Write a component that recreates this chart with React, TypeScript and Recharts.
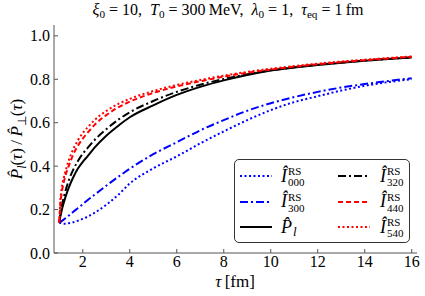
import React from "react";
import { LineChart, Line, XAxis, YAxis, Legend } from "recharts";

const SERIF = '"Liberation Serif", Times, serif';

// tau in fm
const tau = [1, 1.05, 1.1, 1.2, 1.3, 1.4, 1.6, 1.8, 2, 2.2, 2.5, 3, 3.5, 4, 5, 6, 7, 8, 9, 10, 11, 12, 13, 14, 15, 16];

const i000 = [0.14, 0.138, 0.136, 0.135, 0.135, 0.137, 0.142, 0.149, 0.157, 0.167, 0.185, 0.222, 0.267, 0.32, 0.39, 0.445, 0.505, 0.56, 0.612, 0.658, 0.695, 0.722, 0.748, 0.77, 0.787, 0.8];
const i300 = [0.14, 0.143, 0.147, 0.155, 0.163, 0.172, 0.19, 0.207, 0.225, 0.243, 0.268, 0.31, 0.35, 0.388, 0.455, 0.51, 0.565, 0.612, 0.655, 0.69, 0.718, 0.742, 0.762, 0.778, 0.792, 0.805];
const pl = [0.14, 0.17, 0.195, 0.235, 0.27, 0.3, 0.35, 0.39, 0.42, 0.445, 0.485, 0.54, 0.585, 0.625, 0.68, 0.728, 0.765, 0.795, 0.82, 0.84, 0.854, 0.866, 0.876, 0.885, 0.893, 0.9];
const i320 = [0.14, 0.185, 0.215, 0.26, 0.3, 0.333, 0.385, 0.425, 0.457, 0.483, 0.52, 0.57, 0.613, 0.648, 0.7, 0.742, 0.775, 0.801, 0.823, 0.841, 0.855, 0.867, 0.877, 0.886, 0.894, 0.901];
const i440 = [0.14, 0.23, 0.275, 0.33, 0.37, 0.4, 0.455, 0.495, 0.527, 0.553, 0.59, 0.635, 0.67, 0.697, 0.737, 0.767, 0.791, 0.812, 0.83, 0.845, 0.858, 0.869, 0.879, 0.888, 0.896, 0.904];
const i540 = [0.14, 0.25, 0.295, 0.35, 0.39, 0.425, 0.48, 0.52, 0.552, 0.578, 0.612, 0.654, 0.686, 0.71, 0.746, 0.774, 0.797, 0.817, 0.834, 0.849, 0.861, 0.872, 0.882, 0.89, 0.898, 0.905];

const xTicks = [2, 4, 6, 8, 10, 12, 14, 16];
const yTicks = [0, 0.2, 0.4, 0.6, 0.8, 1.0];

const DOTTED = "2 2.5";
const DASHED = "5 3";
const DASHDOT = "8 3 2 3";

const series = [
  { key: "i000", values: i000, color: "#0000ff", dash: DOTTED, base: "Î", sup: "RS", sub: "000" },
  { key: "i300", values: i300, color: "#0000ff", dash: DASHDOT, base: "Î", sup: "RS", sub: "300" },
  { key: "pl", values: pl, color: "#000000", dash: undefined, base: "P\u0302", sup: "", sub: "l" },
  { key: "i320", values: i320, color: "#000000", dash: DASHDOT, base: "Î", sup: "RS", sub: "320" },
  { key: "i440", values: i440, color: "#ff0000", dash: DASHED, base: "Î", sup: "RS", sub: "440" },
  { key: "i540", values: i540, color: "#ff0000", dash: DOTTED, base: "Î", sup: "RS", sub: "540" },
];

const data = tau.map((t, i) => {
  const row: Record<string, number> = { tau: t };
  series.forEach((s) => (row[s.key] = s.values[i]));
  return row;
});

const FRAME = "#555";

const XTick = (props: any) => (
  <text x={props.x} y={props.y} dy="0.72em" textAnchor="middle" fill="#000" fontSize={16} fontFamily={SERIF} style={{ fontFamily: SERIF }}>
    {props.payload.value}
  </text>
);

const YTick = (props: any) => (
  <text x={props.x} y={props.y} dy="0.35em" textAnchor="end" fill="#000" fontSize={16} fontFamily={SERIF} style={{ fontFamily: SERIF }}>
    {Number(props.payload.value).toFixed(1)}
  </text>
);

function renderLegend() {
  return (
    <div
      style={{
        position: "relative",
        width: 176,
        height: 84,
        border: "1px solid #333",
        borderRadius: 5,
        background: "#fff",
        boxSizing: "border-box",
        fontFamily: SERIF,
        color: "#000",
      }}
    >
      {series.map((s, i) => {
        const col = i < 3 ? 0 : 1;
        const row = i % 3;
        const cy = 16 + row * 25.5;
        const lineLeft = col === 0 ? 5 : 103;
        const textLeft = col === 0 ? 46 : 145;
        return (
          <React.Fragment key={s.key}>
            <svg style={{ position: "absolute", left: lineLeft, top: cy - 3 }} width={32} height={6}>
              <line x1={0} y1={3} x2={32} y2={3} stroke={s.color} strokeWidth={2} strokeDasharray={s.dash} />
            </svg>
            <div style={{ position: "absolute", left: textLeft, top: cy - 12, height: 24, display: "flex", alignItems: "center", whiteSpace: "nowrap" }}>
              <span style={{ fontStyle: "italic", fontSize: 18 }}>{s.base}</span>
              {s.sup ? (
                <span style={{ display: "inline-flex", flexDirection: "column", fontSize: 11, lineHeight: "11px", marginLeft: 1, marginTop: 2 }}>
                  <span style={{ height: 11 }}>{s.sup}</span>
                  <span style={{ height: 11 }}>{s.sub}</span>
                </span>
              ) : (
                <span style={{ fontSize: 13, fontStyle: "italic", marginLeft: 1, position: "relative", top: 5 }}>{s.sub}</span>
              )}
            </div>
          </React.Fragment>
        );
      })}
    </div>
  );
}

const sub = (t: string, italic = false) => (
  <span style={{ fontSize: "0.7em", position: "relative", top: "0.3em", fontStyle: italic ? "italic" : "normal" }}>{t}</span>
);

export default function App() {
  return (
    <div style={{ position: "relative", width: 425, height: 296, fontFamily: SERIF, background: "#fff", color: "#000" }}>
      <style>{`body{margin:0}`}</style>
      <div style={{ position: "absolute", left: 228, top: 0, transform: "translateX(-50%)", whiteSpace: "nowrap", fontSize: 16, lineHeight: "20px" }}>
        <i>ξ</i>{sub("0")} = 10,&nbsp; <i>T</i>{sub("0")} = 300&thinsp;MeV,&nbsp; <i>λ</i>{sub("0")} = 1,&nbsp; <i>τ</i>{sub("eq")} = 1&thinsp;fm
      </div>
      <div style={{ position: "absolute", left: 235, top: 272, transform: "translateX(-50%)", whiteSpace: "nowrap", fontSize: 17, lineHeight: "20px" }}>
        <i>τ</i>&thinsp;[fm]
      </div>
      <div
        style={{
          position: "absolute",
          left: 17,
          top: 139,
          transform: "translate(-50%, -50%) rotate(-90deg)",
          whiteSpace: "nowrap",
          fontSize: 17,
          lineHeight: "20px",
        }}
      >
        <i>P&#770;</i>{sub("l", true)}(<i>τ</i>)&thinsp;/&thinsp;<i>P&#770;</i>{sub("⊥")}(<i>τ</i>)
      </div>
      <div style={{ position: "absolute", left: 0, top: 0 }}>
        <LineChart width={425} height={296} data={data} margin={{ top: 25, right: 8, bottom: 13, left: 0 }}>
          <XAxis
            xAxisId="b"
            dataKey="tau"
            type="number"
            domain={[0.775, 16.225]}
            ticks={xTicks}
            interval={0}
            allowDataOverflow
            height={30}
            tickSize={-4}
            tickMargin={6}
            stroke={FRAME}
            tick={XTick}
          />
          <XAxis
            xAxisId="t"
            orientation="top"
            dataKey="tau"
            type="number"
            domain={[0.775, 16.225]}
            ticks={xTicks}
            interval={0}
            allowDataOverflow
            height={0}
            tickSize={-4}
            stroke={FRAME}
            tickFormatter={() => ""}
          />
          <YAxis
            yAxisId="l"
            type="number"
            domain={[0, 1.05]}
            ticks={yTicks}
            interval={0}
            allowDataOverflow
            width={54}
            tickSize={-4}
            tickMargin={8}
            stroke={FRAME}
            tick={YTick}
          />
          <YAxis
            yAxisId="r"
            orientation="right"
            type="number"
            domain={[0, 1.05]}
            ticks={yTicks}
            interval={0}
            allowDataOverflow
            width={0}
            tickSize={-4}
            stroke={FRAME}
            tickFormatter={() => ""}
          />
          {series.map((s) => (
            <Line
              key={s.key}
              xAxisId="b"
              yAxisId="l"
              dataKey={s.key}
              type="monotone"
              stroke={s.color}
              strokeWidth={2}
              strokeDasharray={s.dash}
              dot={false}
              activeDot={false}
              isAnimationActive={false}
            />
          ))}
          <Legend
            layout="horizontal"
            verticalAlign="middle"
            align="center"
            wrapperStyle={{ left: 234, top: 159, width: 176, height: 84 }}
            content={renderLegend}
          />
        </LineChart>
      </div>
    </div>
  );
}
